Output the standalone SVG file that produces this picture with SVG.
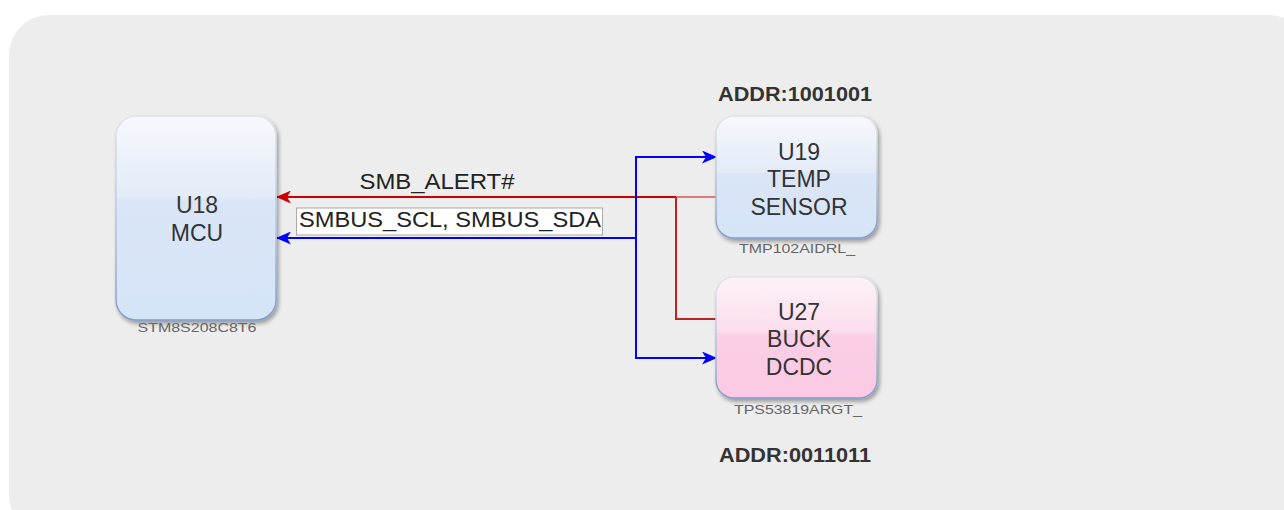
<svg xmlns="http://www.w3.org/2000/svg" width="1284" height="510" viewBox="0 0 1284 510">
<defs>
<linearGradient id="gBlue" x1="0" y1="0" x2="0" y2="1">
<stop offset="0" stop-color="#f6f8fc"/>
<stop offset="0.4" stop-color="#e3ebf7"/>
<stop offset="0.41" stop-color="#dae6f7"/>
<stop offset="1" stop-color="#d6e4f8"/>
</linearGradient>
<linearGradient id="gBlue2" x1="0" y1="0" x2="0" y2="1">
<stop offset="0" stop-color="#f6f8fc"/>
<stop offset="0.46" stop-color="#e3ebf7"/>
<stop offset="0.47" stop-color="#dae6f7"/>
<stop offset="1" stop-color="#d6e4f8"/>
</linearGradient>
<linearGradient id="gPink" x1="0" y1="0" x2="0" y2="1">
<stop offset="0" stop-color="#fdf2f8"/>
<stop offset="0.46" stop-color="#fbdded"/>
<stop offset="0.47" stop-color="#fbcfe6"/>
<stop offset="1" stop-color="#fbc9e3"/>
</linearGradient>
<linearGradient id="gStroke" x1="0" y1="0" x2="0" y2="1">
<stop offset="0" stop-color="#e0e4ea"/>
<stop offset="0.5" stop-color="#b8c8de"/>
<stop offset="1" stop-color="#7f9ccb"/>
</linearGradient>
<filter id="sh" x="-10%" y="-10%" width="130%" height="130%">
<feGaussianBlur in="SourceAlpha" stdDeviation="2"/>
<feOffset dx="2" dy="3" result="b"/>
<feComponentTransfer><feFuncA type="linear" slope="0.35"/></feComponentTransfer>
<feMerge><feMergeNode/><feMergeNode in="SourceGraphic"/></feMerge>
</filter>
<marker id="arR" markerWidth="15" markerHeight="13" refX="14" refY="6.5" orient="auto" markerUnits="userSpaceOnUse">
<path d="M0,0 L15,6.5 L0,13 L4,6.5 Z" fill="#cc0000"/>
</marker>
<marker id="arB" markerWidth="15" markerHeight="13" refX="14" refY="6.5" orient="auto" markerUnits="userSpaceOnUse">
<path d="M0,0 L15,6.5 L0,13 L4,6.5 Z" fill="#0000ff"/>
</marker>
<style>
.node{stroke:url(#gStroke);stroke-width:1.5}
.t{font-family:"Liberation Sans",Arial,sans-serif;font-size:23px;fill:#333;text-anchor:middle}
.sub{font-family:"Liberation Sans",Arial,sans-serif;font-size:13px;fill:#666;text-anchor:middle}
.addr{font-family:"Liberation Sans",Arial,sans-serif;font-size:20px;font-weight:bold;fill:#333;text-anchor:middle}
.lbl{font-family:"Liberation Sans",Arial,sans-serif;font-size:22px;fill:#222;text-anchor:middle}
.red{fill:none;stroke:#cc0000;stroke-width:2}
.blue{fill:none;stroke:#0000ff;stroke-width:2}
</style>
</defs>
<rect x="9" y="15" width="1300" height="520" rx="40" ry="40" fill="#ededed"/>
<g id="connectors">
<path class="red" d="M676,197 L277,197" marker-end="url(#arR)"/>
<path d="M716,197 L676,197" fill="none" stroke="#e07a7a" stroke-width="2"/>
<path d="M716,319 L676,319 L676,197" fill="none" stroke="#bb2222" stroke-width="2"/>
<path class="blue" d="M636,238 L277,238" marker-end="url(#arB)"/>
<path class="blue" d="M636,238 L636,157 L716,157" marker-end="url(#arB)"/>
<path class="blue" d="M636,238 L636,358 L716,358" marker-end="url(#arB)"/>
<text class="lbl" x="437" y="189" textLength="155" lengthAdjust="spacingAndGlyphs">SMB_ALERT#</text>
<rect x="296.5" y="208" width="306" height="27" fill="#ffffff" stroke="#aaa" stroke-width="1"/>
<text class="lbl" x="450" y="226.5" textLength="302" lengthAdjust="spacingAndGlyphs">SMBUS_SCL, SMBUS_SDA</text>
</g>
<g id="U18">
<rect class="node" x="116" y="116" width="160" height="204" rx="20" ry="20" fill="url(#gBlue)" filter="url(#sh)"/>
<text class="t" x="197" y="213">U18</text>
<text class="t" x="197" y="241">MCU</text>
<text class="sub" x="197" y="332" textLength="119" lengthAdjust="spacingAndGlyphs">STM8S208C8T6</text>
</g>
<g id="U19">
<rect class="node" x="716" y="116" width="161" height="122" rx="18" ry="18" fill="url(#gBlue2)" filter="url(#sh)"/>
<text class="t" x="799" y="160">U19</text>
<text class="t" x="799" y="187">TEMP</text>
<text class="t" x="799" y="215">SENSOR</text>
<text class="sub" x="797" y="253" textLength="116" lengthAdjust="spacingAndGlyphs">TMP102AIDRL_</text>
<text class="addr" x="795" y="101" textLength="154" lengthAdjust="spacingAndGlyphs">ADDR:1001001</text>
</g>
<g id="U27">
<rect class="node" x="716" y="277" width="161" height="121" rx="18" ry="18" fill="url(#gPink)" filter="url(#sh)"/>
<text class="t" x="799" y="320">U27</text>
<text class="t" x="799" y="347">BUCK</text>
<text class="t" x="799" y="375">DCDC</text>
<text class="sub" x="798" y="414" textLength="128" lengthAdjust="spacingAndGlyphs">TPS53819ARGT_</text>
<text class="addr" x="795" y="461.5" textLength="152" lengthAdjust="spacingAndGlyphs">ADDR:0011011</text>
</g>
</svg>
